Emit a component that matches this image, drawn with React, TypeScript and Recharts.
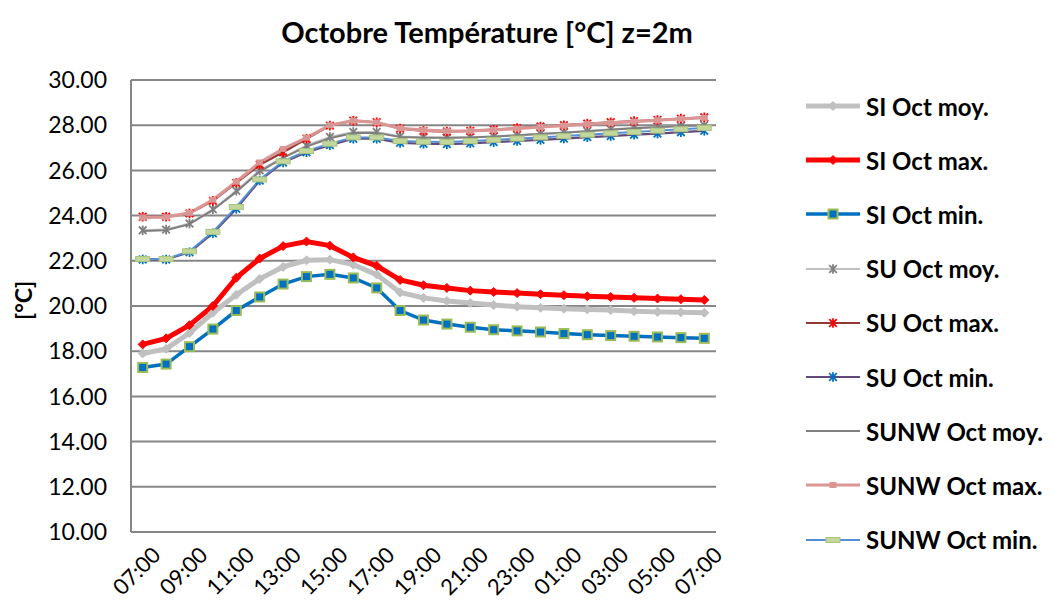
import React from "react";
import { LineChart, Line, XAxis, YAxis, CartesianGrid } from "recharts";

const hours = ["07:00","08:00","09:00","10:00","11:00","12:00","13:00","14:00","15:00","16:00","17:00","18:00","19:00","20:00","21:00","22:00","23:00","00:00","01:00","02:00","03:00","04:00","05:00","06:00","07:00"];

const siMoy = [17.9, 18.1, 18.8, 19.7, 20.5, 21.2, 21.73, 22.02, 22.05, 21.83, 21.39, 20.6, 20.36, 20.22, 20.13, 20.04, 19.97, 19.92, 19.88, 19.85, 19.82, 19.77, 19.74, 19.72, 19.7];
const siMax = [18.3, 18.57, 19.15, 20.0, 21.25, 22.1, 22.65, 22.85, 22.67, 22.15, 21.78, 21.15, 20.92, 20.8, 20.68, 20.62, 20.57, 20.52, 20.48, 20.43, 20.4, 20.36, 20.33, 20.3, 20.27];
const siMin = [17.28, 17.43, 18.2, 18.98, 19.8, 20.4, 20.97, 21.3, 21.4, 21.24, 20.8, 19.8, 19.38, 19.2, 19.06, 18.95, 18.9, 18.85, 18.78, 18.73, 18.69, 18.66, 18.63, 18.6, 18.57];
const suMoy = [23.35, 23.38, 23.65, 24.28, 25.1, 26.0, 26.58, 27.1, 27.48, 27.7, 27.7, 27.5, 27.47, 27.45, 27.47, 27.5, 27.56, 27.62, 27.68, 27.74, 27.82, 27.88, 27.93, 27.97, 28.0];
const suMax = [23.95, 23.95, 24.1, 24.65, 25.45, 26.25, 26.8, 27.4, 27.98, 28.2, 28.13, 27.85, 27.75, 27.72, 27.75, 27.8, 27.87, 27.94, 28.0, 28.07, 28.13, 28.18, 28.23, 28.29, 28.35];
const suMin = [22.06, 22.06, 22.38, 23.22, 24.3, 25.55, 26.35, 26.8, 27.12, 27.4, 27.4, 27.22, 27.18, 27.16, 27.2, 27.25, 27.3, 27.35, 27.41, 27.47, 27.52, 27.58, 27.63, 27.69, 27.75];
const sunwMoy = [23.32, 23.35, 23.62, 24.25, 25.05, 25.95, 26.55, 27.05, 27.42, 27.65, 27.66, 27.48, 27.45, 27.44, 27.46, 27.5, 27.55, 27.61, 27.67, 27.73, 27.8, 27.86, 27.91, 27.96, 28.0];
const sunwMax = [23.92, 23.93, 24.12, 24.7, 25.5, 26.35, 26.95, 27.45, 28.0, 28.2, 28.12, 27.86, 27.78, 27.74, 27.75, 27.79, 27.85, 27.92, 27.98, 28.05, 28.1, 28.16, 28.22, 28.28, 28.33];
const sunwMin = [22.08, 22.08, 22.42, 23.28, 24.38, 25.6, 26.4, 26.86, 27.18, 27.46, 27.46, 27.3, 27.27, 27.26, 27.3, 27.35, 27.41, 27.46, 27.52, 27.58, 27.64, 27.7, 27.76, 27.82, 27.88];

const yTicks = [10, 12, 14, 16, 18, 20, 22, 24, 26, 28, 30];

const data = hours.map((h, i) => ({
  h,
  siMoy: siMoy[i], siMax: siMax[i], siMin: siMin[i],
  suMoy: suMoy[i], suMax: suMax[i], suMin: suMin[i],
  sunwMoy: sunwMoy[i], sunwMax: sunwMax[i], sunwMin: sunwMin[i],
}));

const FONT = "Lato, 'Open Sans', sans-serif";

type Mk = "diamond" | "square" | "star" | "xstar" | "none" | "smallsq" | "dash";

const marker = (kind: Mk, fill: string, stroke: string, cx: number, cy: number, key?: any) => {
  if (cx == null || cy == null) return <g key={key} />;
  switch (kind) {
    case "diamond":
      return <path key={key} d={`M${cx},${cy - 4.5}L${cx + 4.5},${cy}L${cx},${cy + 4.5}L${cx - 4.5},${cy}Z`} fill={fill} stroke={fill} />;
    case "square":
      return <rect key={key} x={cx - 4.5} y={cy - 4.5} width={9} height={9} fill={fill} stroke={stroke} strokeWidth={2} />;
    case "smallsq":
      return <rect key={key} x={cx - 3.5} y={cy - 3} width={7} height={6} fill={fill} />;
    case "dash":
      return <rect key={key} x={cx - 7} y={cy - 2.5} width={14} height={5} fill={fill} stroke={stroke} strokeWidth={1} />;
    case "star":
    case "xstar": {
      const s = 3.8;
      return (
        <g key={key} stroke={fill} strokeWidth={1.8}>
          <line x1={cx - s} y1={cy - s} x2={cx + s} y2={cy + s} />
          <line x1={cx - s} y1={cy + s} x2={cx + s} y2={cy - s} />
          <line x1={cx} y1={cy - s - 1} x2={cx} y2={cy + s + 1} />
        </g>
      );
    }
    default:
      return <g key={key} />;
  }
};

type S = { key: string; name: string; color: string; width: number; mk: Mk; mFill: string; mStroke: string };
const series: S[] = [
  { key: "siMoy", name: "SI Oct moy.", color: "#C0C0C0", width: 5, mk: "diamond", mFill: "#C0C0C0", mStroke: "#C0C0C0" },
  { key: "siMax", name: "SI Oct max.", color: "#FF0000", width: 5, mk: "diamond", mFill: "#FF0000", mStroke: "#FF0000" },
  { key: "siMin", name: "SI Oct min.", color: "#0070C0", width: 3.5, mk: "square", mFill: "#0070C0", mStroke: "#9BBB59" },
  { key: "suMoy", name: "SU Oct moy.", color: "#BFBFBF", width: 2, mk: "xstar", mFill: "#7F7F7F", mStroke: "#7F7F7F" },
  { key: "suMax", name: "SU Oct max.", color: "#953735", width: 2.2, mk: "star", mFill: "#FF0000", mStroke: "#FF0000" },
  { key: "suMin", name: "SU Oct min.", color: "#604A7B", width: 2.2, mk: "star", mFill: "#0070C0", mStroke: "#0070C0" },
  { key: "sunwMoy", name: "SUNW Oct moy.", color: "#7F7F7F", width: 2, mk: "none", mFill: "none", mStroke: "none" },
  { key: "sunwMax", name: "SUNW Oct max.", color: "#D99694", width: 3.2, mk: "smallsq", mFill: "#D99694", mStroke: "#D99694" },
  { key: "sunwMin", name: "SUNW Oct min.", color: "#558ED5", width: 2, mk: "dash", mFill: "#C4D79B", mStroke: "#A9C47F" },
];

const XTick = (props: any) => {
  const { x, y, payload } = props;
  const ax = x + 7;
  const ay = y + 4;
  return (
    <text x={ax} y={ay} transform={`rotate(-45 ${ax} ${ay})`} textAnchor="end" dominantBaseline="hanging" fontFamily={FONT} fontSize={22} fill="#000">
      {payload.value}
    </text>
  );
};

export default function App() {
  return (
    <div style={{ position: "relative", width: 1037, height: 594, fontFamily: FONT, background: "#fff" }}>
      <div style={{ position: "absolute", left: 0, top: 6, width: 958, textAlign: "center", fontWeight: 700, fontSize: 29, color: "#000" }}>
        Octobre Température [°C] z=2m
      </div>
      <div style={{ position: "absolute", left: 0, top: 297, width: 30, height: 0 }}>
        <div style={{ position: "absolute", left: 0, top: 0, transform: "translate(0,-50%) rotate(-90deg)", transformOrigin: "center", fontWeight: 700, fontSize: 23, whiteSpace: "nowrap", width: 30, textAlign: "center" }}>
          [°C]
        </div>
      </div>
      <LineChart width={1037} height={594} data={data} margin={{ top: 72, right: 329, bottom: 4, left: 38 }}>
        <CartesianGrid horizontal={true} vertical={false} stroke="#868686" strokeWidth={2} />
        <XAxis
          dataKey="h"
          interval={1}
          tick={<XTick />}
          tickLine={false}
          axisLine={{ stroke: "#868686", strokeWidth: 2 }}
          padding={{ left: 11.7, right: 11.7 }}
          height={66}
        />
        <YAxis
          domain={[10, 30]}
          ticks={yTicks}
          tickFormatter={(v: number) => v.toFixed(2)}
          tick={{ fontFamily: FONT, fontSize: 23, fill: "#000" }}
          tickLine={false}
          axisLine={{ stroke: "#868686", strokeWidth: 2 }}
          width={85}
          tickMargin={18}
        />
        {series.map((s) => (
          <Line
            key={s.key}
            type="linear"
            dataKey={s.key}
            name={s.name}
            stroke={s.color}
            strokeWidth={s.width}
            isAnimationActive={false}
            dot={(p: any) => marker(s.mk, s.mFill, s.mStroke, p.cx, p.cy, p.key ?? `${s.key}-${p.index}`)}
            activeDot={false}
          />
        ))}
      </LineChart>
      <div style={{ position: "absolute", left: 796, top: 0 }}>
        {series.map((s, i) => (
          <div key={s.key} style={{ position: "absolute", left: 0, top: 98 - 15 + i * 54.2, height: 30, display: "flex", alignItems: "center", whiteSpace: "nowrap" }}>
            <svg width={60} height={24} style={{ display: "block" }}>
              <line x1={2} y1={12} x2={56} y2={12} stroke={s.color} strokeWidth={s.width} />
              {marker(s.mk, s.mFill, s.mStroke, 29, 12)}
            </svg>
            <span style={{ fontWeight: 700, fontSize: 24, color: "#000", marginLeft: 2 }}>{s.name}</span>
          </div>
        ))}
      </div>
    </div>
  );
}
